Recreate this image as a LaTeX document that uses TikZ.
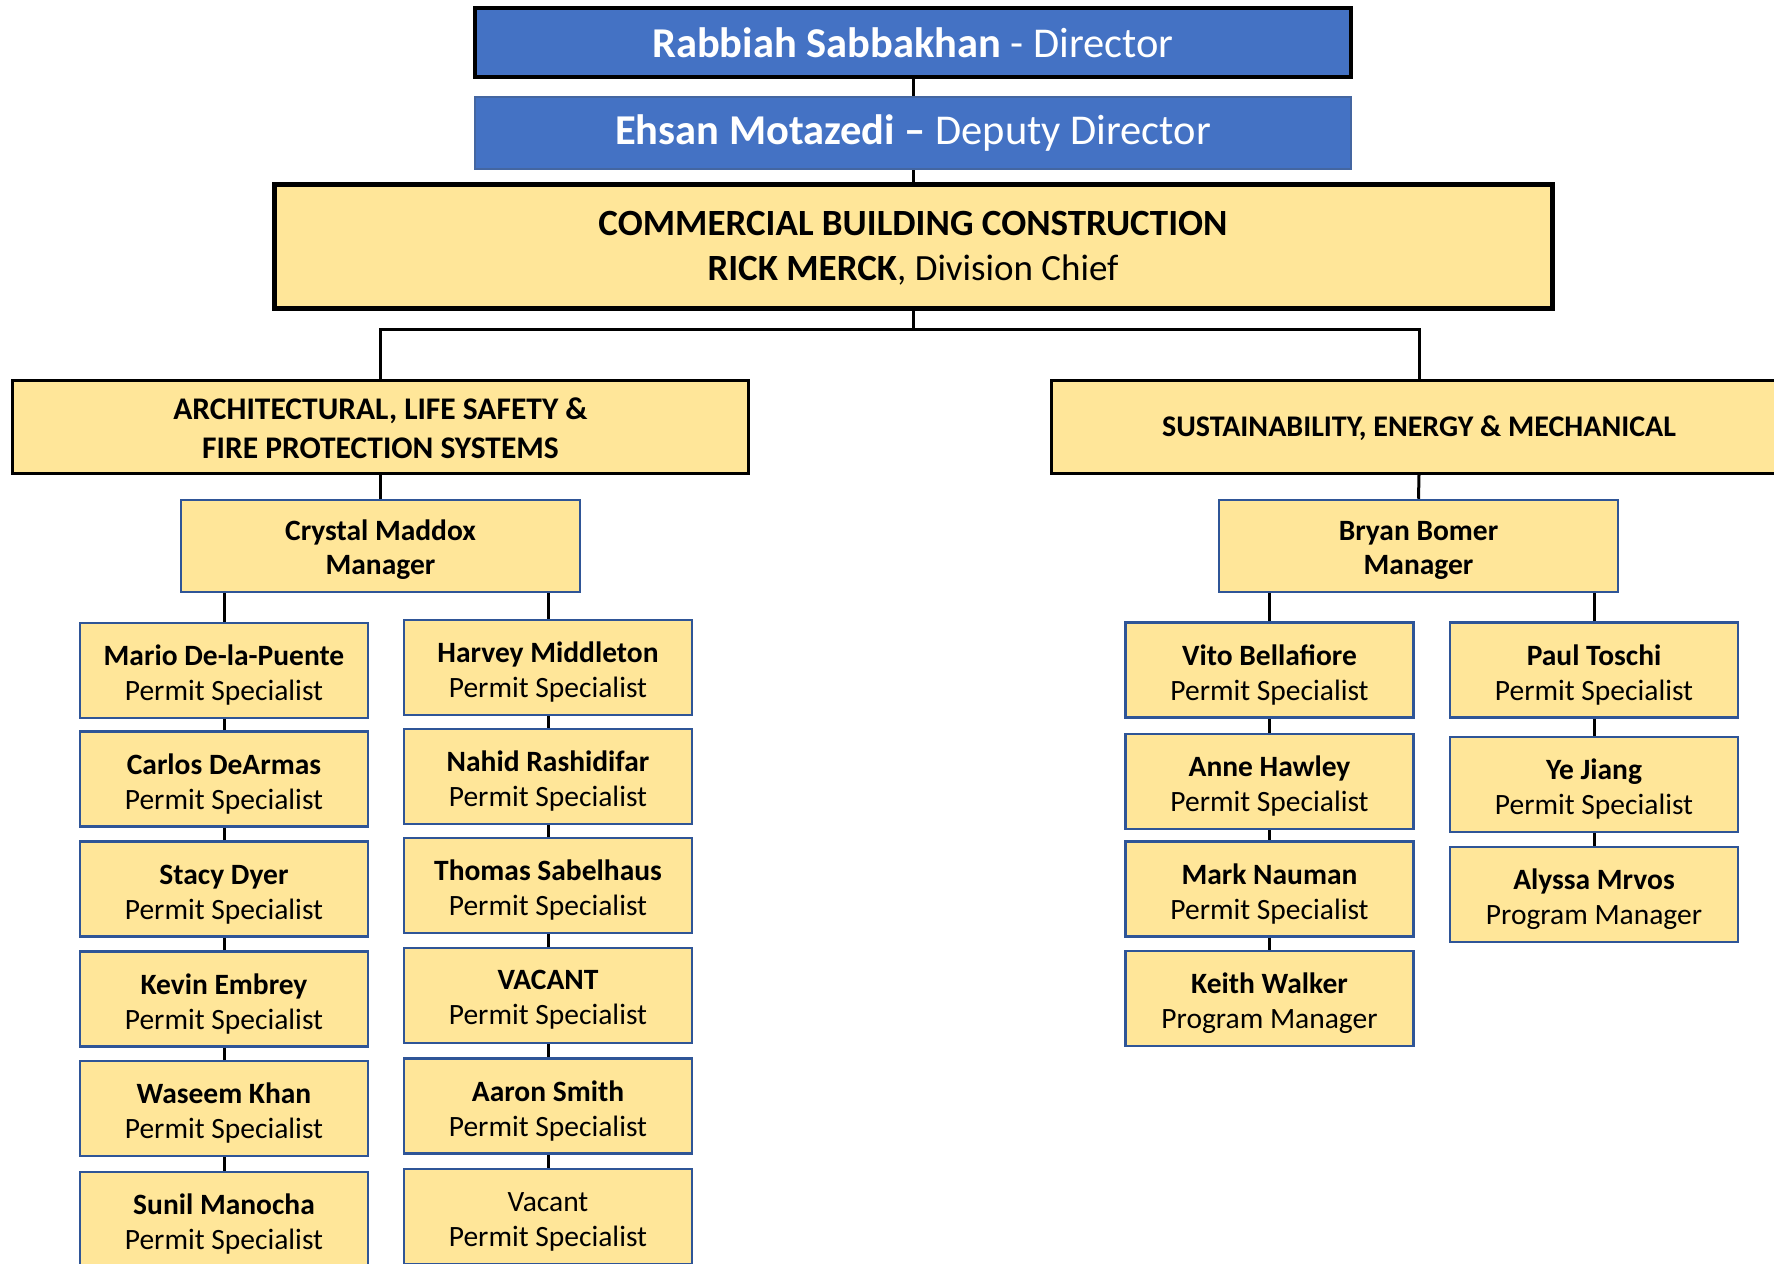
\documentclass[tikz,border=0pt]{standalone}
\usepackage{fontspec}
\setmainfont{Carlito}
\definecolor{topblue}{HTML}{4472C4}
\definecolor{boxyellow}{HTML}{FFE699}
\definecolor{edgeblue}{HTML}{2F5597}
\newcommand\lift[1]{\rule{0pt}{#1pt}}
\newcommand\sname[1]{\lift{30}\textbf{#1}}
\begin{document}
\begin{tikzpicture}[x=1pt,y=-1pt,
  conn/.style={draw=black,line width=3pt},
  base/.style={inner sep=0pt,align=center,text=black},
  topbox/.style={base,fill=topblue,text=white,minimum width=876pt,font=\fontsize{42.5}{50}\selectfont},
  commbox/.style={base,fill=boxyellow,draw=black,line width=5pt,minimum width=1278pt,minimum height=124pt,font=\fontsize{37}{45}\selectfont},
  divbox/.style={base,fill=boxyellow,draw=black,line width=3pt,minimum width=736pt,minimum height=93pt,font=\bfseries\fontsize{31.5}{38.5}\selectfont},
  mgrbox/.style={base,fill=boxyellow,draw=edgeblue,line width=2.5pt,minimum width=399pt,minimum height=92pt,font=\bfseries\fontsize{29.5}{34.5}\selectfont},
  staff/.style={base,fill=boxyellow,draw=edgeblue,line width=2.5pt,minimum width=288pt,minimum height=95pt,font=\fontsize{29.5}{35}\selectfont}
]
\useasboundingbox (0,0) rectangle (1774,1263);
\clip (0,0) rectangle (1774,1263);

% top
\node[topbox,draw=black,line width=3.5pt,minimum height=69pt] (dir) at (913,42.5) {\textbf{Rabbiah Sabbakhan} - Director};
\node[topbox,draw=edgeblue!90,line width=2pt,minimum height=72pt] (dep) at (913,133) {\textbf{Ehsan Motazedi –} Deputy Director};
\node[commbox] (comm) at (913,246) {\lift{28.3}\textbf{COMMERCIAL BUILDING CONSTRUCTION}\\\textbf{RICK MERCK}, Division Chief};

% divisions
\node[divbox] (ldiv) at (380.5,426.5) {\lift{24.8}ARCHITECTURAL, LIFE SAFETY \&\\FIRE PROTECTION SYSTEMS};
\node[divbox,font=\bfseries\fontsize{30}{38.5}\selectfont] (rdiv) at (1419,426.5) {\lift{23.8}SUSTAINABILITY, ENERGY \& MECHANICAL};

% managers
\node[mgrbox] (cm) at (380.5,546) {\lift{28}Crystal Maddox\\Manager};
\node[mgrbox] (bb) at (1418.5,546) {\lift{28}Bryan Bomer\\Manager};

% left column 1
\node[staff] (l1a) at (224,670.5) {\sname{Mario De-la-Puente}\\Permit Specialist};
\node[staff] (l1b) at (224,779) {\sname{Carlos DeArmas}\\Permit Specialist};
\node[staff] (l1c) at (224,889) {\sname{Stacy Dyer}\\Permit Specialist};
\node[staff] (l1d) at (224,999) {\sname{Kevin Embrey}\\Permit Specialist};
\node[staff] (l1e) at (224,1108.5) {\sname{Waseem Khan}\\Permit Specialist};
\node[staff] (l1f) at (224,1219.5) {\sname{Sunil Manocha}\\Permit Specialist};

% left column 2
\node[staff] (l2a) at (548,667.5) {\sname{Harvey Middleton}\\Permit Specialist};
\node[staff] (l2b) at (548,776.5) {\sname{Nahid Rashidifar}\\Permit Specialist};
\node[staff] (l2c) at (548,885.5) {\sname{Thomas Sabelhaus}\\Permit Specialist};
\node[staff] (l2d) at (548,995.5) {\lift{28.5}\textbf{VACANT}\\Permit Specialist};
\node[staff] (l2e) at (548,1106) {\sname{Aaron Smith}\\Permit Specialist};
\node[staff] (l2f) at (548,1216.5) {\lift{30}Vacant\\Permit Specialist};

% right column 1
\node[staff] (r1a) at (1269.5,670) {\sname{Vito Bellafiore}\\Permit Specialist};
\node[staff] (r1b) at (1269.5,781.5) {\sname{Anne Hawley}\\Permit Specialist};
\node[staff] (r1c) at (1269.5,889) {\sname{Mark Nauman}\\Permit Specialist};
\node[staff] (r1d) at (1269.5,998.5) {\sname{Keith Walker}\\Program Manager};

% right column 2
\node[staff] (r2a) at (1594,670) {\sname{Paul Toschi}\\Permit Specialist};
\node[staff] (r2b) at (1594,784.5) {\sname{Ye Jiang}\\Permit Specialist};
\node[staff] (r2c) at (1594,894.5) {\sname{Alyssa Mrvos}\\Program Manager};

% connectors
\coordinate (bar) at (913,329);
\draw[conn] (dir.south) -- (dep.north);
\draw[conn] (dep.south) -- (comm.north);
\draw[conn] (comm.south) -- (bar);
\draw[conn] (ldiv.north) |- (bar) -| (rdiv.north);
\draw[conn] (ldiv.south) -- (cm.north);
\draw[conn] (rdiv.south) -- (bb.north);

\draw[conn] (l1a.north) -- (l1a.north |- cm.south);
\draw[conn] (l2a.north) -- (l2a.north |- cm.south);
\draw[conn] (r1a.north) -- (r1a.north |- bb.south);
\draw[conn] (r2a.north) -- (r2a.north |- bb.south);

\draw[conn] (l1a.south) -- (l1b.north);
\draw[conn] (l1b.south) -- (l1c.north);
\draw[conn] (l1c.south) -- (l1d.north);
\draw[conn] (l1d.south) -- (l1e.north);
\draw[conn] (l1e.south) -- (l1f.north);

\draw[conn] (l2a.south) -- (l2b.north);
\draw[conn] (l2b.south) -- (l2c.north);
\draw[conn] (l2c.south) -- (l2d.north);
\draw[conn] (l2d.south) -- (l2e.north);
\draw[conn] (l2e.south) -- (l2f.north);

\draw[conn] (r1a.south) -- (r1b.north);
\draw[conn] (r1b.south) -- (r1c.north);
\draw[conn] (r1c.south) -- (r1d.north);

\draw[conn] (r2a.south) -- (r2b.north);
\draw[conn] (r2b.south) -- (r2c.north);
\end{tikzpicture}
\end{document}
